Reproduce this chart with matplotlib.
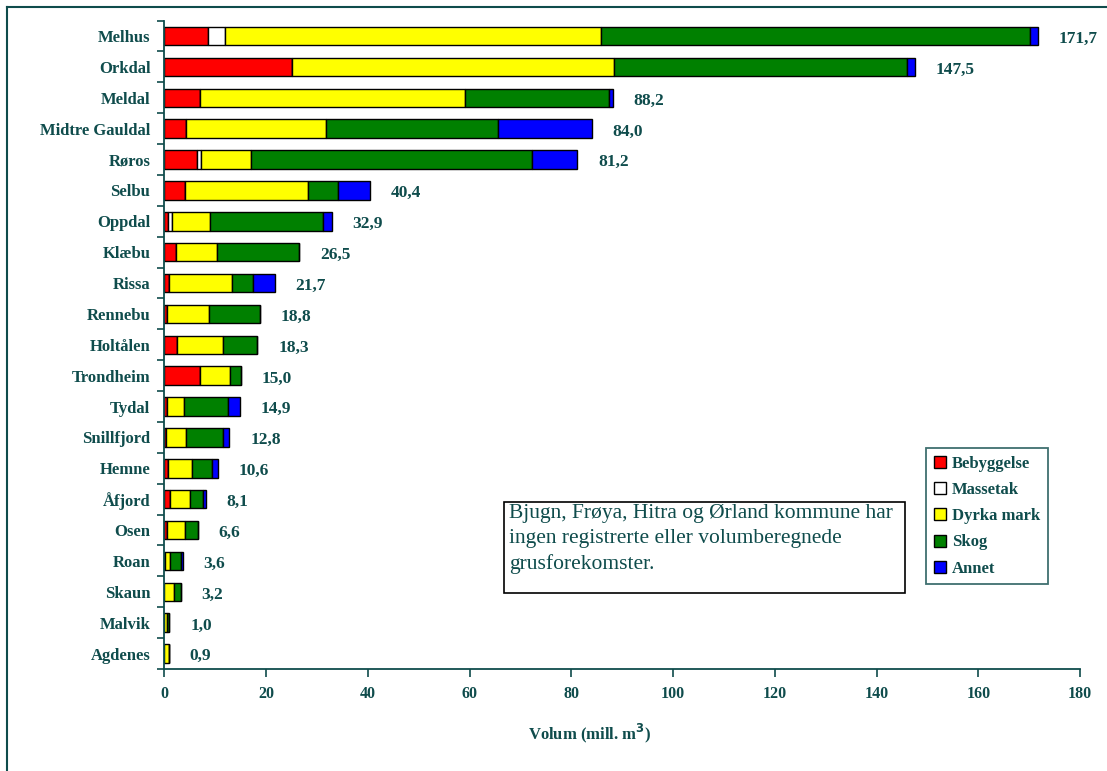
import matplotlib
matplotlib.use("Agg")
import matplotlib.pyplot as plt
from matplotlib.patches import Rectangle, Patch
from matplotlib.lines import Line2D
import numpy as np

kommuner = ["Melhus", "Orkdal", "Meldal", "Midtre Gauldal", "Røros", "Selbu", "Oppdal",
            "Klæbu", "Rissa", "Rennebu", "Holtålen", "Trondheim", "Tydal", "Snillfjord",
            "Hemne", "Åfjord", "Osen", "Roan", "Skaun", "Malvik", "Agdenes"]
bebyggelse = [8.6, 25.1, 7.1, 4.2, 6.5, 4.0, 0.8, 2.3, 0.9, 0.6, 2.5, 7.0, 0.6, 0.4, 0.7, 1.1, 0.5, 0.1, 0.0, 0.0, 0.0]
massetak   = [3.4, 0.0, 0.0, 0.0, 0.8, 0.0, 0.8, 0.0, 0.0, 0.0, 0.0, 0.0, 0.0, 0.0, 0.0, 0.0, 0.0, 0.0, 0.0, 0.0, 0.0]
dyrka_mark = [73.9, 63.3, 52.0, 27.6, 9.7, 24.2, 7.3, 8.1, 12.5, 8.2, 9.0, 6.0, 3.2, 3.8, 4.8, 3.9, 3.6, 1.1, 2.0, 0.6, 0.9]
skog       = [84.2, 57.5, 28.3, 33.7, 55.3, 6.0, 22.3, 16.1, 4.1, 10.0, 6.8, 2.0, 8.8, 7.3, 3.8, 2.6, 2.5, 2.0, 1.2, 0.4, 0.0]
annet      = [1.6, 1.6, 0.8, 18.5, 8.9, 6.2, 1.7, 0.0, 4.2, 0.0, 0.0, 0.0, 2.3, 1.3, 1.3, 0.5, 0.0, 0.4, 0.0, 0.0, 0.0]
totaler    = ["171,7", "147,5", "88,2", "84,0", "81,2", "40,4", "32,9", "26,5", "21,7", "18,8",
              "18,3", "15,0", "14,9", "12,8", "10,6", "8,1", "6,6", "3,6", "3,2", "1,0", "0,9"]
serier = ["Bebyggelse", "Massetak", "Dyrka mark", "Skog", "Annet"]
farger = ["#FF0000", "#FFFFFF", "#FFFF00", "#008000", "#0000FF"]
xticks = [0, 20, 40, 60, 80, 100, 120, 140, 160, 180]
merknad = "Bjugn, Frøya, Hitra og Ørland kommune har\ningen registrerte eller volumberegnede\ngrusforekomster."

TEAL = "#0f4c4c"
SERIF = ["Liberation Serif", "DejaVu Serif"]

W, H = 1107, 771
fig = plt.figure(figsize=(W / 100, H / 100), dpi=100)
fig.patch.set_facecolor("white")

x0, x1, ytop, ybot = 164.3, 1080, 20.6, 669
ax = fig.add_axes([x0 / W, 1 - ybot / H, (x1 - x0) / W, (ybot - ytop) / H])

n = len(kommuner)
y = np.arange(n)
data = [bebyggelse, massetak, dyrka_mark, skog, annet]
left = np.zeros(n)
for vals, col, name in zip(data, farger, serier):
    v = np.array(vals)
    ax.barh(y, v, left=left, height=0.6, color=col, edgecolor="black", linewidth=1.0, label=name)
    left += v

for yi, tot, lab in zip(y, left, totaler):
    ax.annotate(lab, xy=(tot, yi), xytext=(15, -2), textcoords="offset points",
                va="center", ha="left", fontsize=12.5, fontweight="bold",
                color=TEAL, family=SERIF)

ax.set_xlim(0, 180)
ax.set_ylim(n - 0.5, -0.5)
ax.set_xticks(xticks)
ax.set_xticklabels([str(t) for t in xticks], fontsize=11.5, fontweight="bold", color=TEAL, family=SERIF)
ax.set_yticks(y)
ax.set_yticklabels(kommuner, fontsize=12, fontweight="bold", color=TEAL, family=SERIF)
ax.set_yticks(np.arange(n + 1) - 0.5, minor=True)
ax.tick_params(axis="y", which="major", length=0, pad=10)
ax.tick_params(axis="y", which="minor", length=5, width=1.2, color=TEAL, direction="out")
ax.tick_params(axis="x", which="major", length=6, width=1.2, color=TEAL, direction="out", pad=6)
for s in ["top", "right"]:
    ax.spines[s].set_visible(False)
for s in ["left", "bottom"]:
    ax.spines[s].set_color(TEAL)
    ax.spines[s].set_linewidth(1.3)

fig.text(590 / W, 1 - 733 / H, "Volum (mill. m$^\\mathbf{3}$)", ha="center", va="center",
         fontsize=12, fontweight="bold", color=TEAL, family=SERIF)

# legend
handles = [Patch(facecolor=c, edgecolor="black", linewidth=1.0, label=s) for c, s in zip(farger, serier)]
leg = fig.legend(handles=handles, loc="upper left", bbox_to_anchor=(926 / W, 1 - 448 / H),
                 frameon=True, fancybox=False, handlelength=0.75, handleheight=0.75,
                 handletextpad=0.35, labelspacing=0.62, borderpad=0.45, borderaxespad=0,
                 prop={"family": SERIF, "weight": "bold", "size": 12})
leg.get_frame().set_edgecolor(TEAL)
leg.get_frame().set_linewidth(1.3)
for t in leg.get_texts():
    t.set_color(TEAL)

# note box
bx0, bx1, by0, by1 = 504, 905, 502, 593
fig.patches.append(Rectangle((bx0 / W, 1 - by1 / H), (bx1 - bx0) / W, (by1 - by0) / H,
                             transform=fig.transFigure, facecolor="white", edgecolor="black",
                             linewidth=1.2, zorder=5))
fig.text(509 / W, 1 - 504 / H, merknad, ha="left", va="top", fontsize=15.5,
         color=TEAL, family=SERIF, linespacing=1.42, zorder=6)

# outer border
fig.add_artist(Line2D([7 / W, 7 / W], [0, 1 - 7 / H], transform=fig.transFigure, color=TEAL, lw=1.5))
fig.add_artist(Line2D([7 / W, 1], [1 - 7 / H, 1 - 7 / H], transform=fig.transFigure, color=TEAL, lw=1.5))

fig.savefig("out.png", dpi=100, facecolor="white")
